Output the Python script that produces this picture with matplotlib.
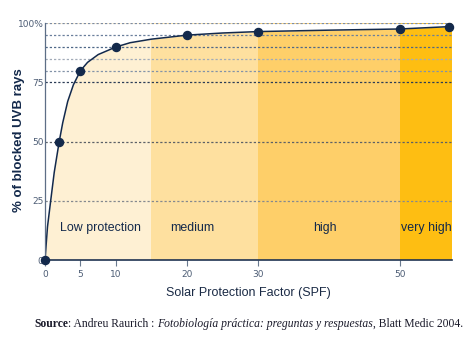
#SPF vs % of blocked UVB rays, with protection bands
import matplotlib.pyplot as plt
import matplotlib as mpl

# data
spf = [0, 2, 5, 10, 20, 30, 50, 57]
blocked = [0, 50, 80, 90, 95, 96.5, 97.6, 98.6]

# extra positions along the drawn curve
curve_x = [0, 0.1, 0.35, 0.8, 1.3, 2, 2.5, 3.2, 4, 5, 6, 7.5, 10, 12, 15,
           20, 25, 30, 40, 50, 57]
curve_y = [0, 4, 14, 25, 37, 50, 58, 67, 74, 80, 83.5, 86.8, 90, 91.8, 93.3,
           95, 95.9, 96.5, 97.1, 97.6, 98.6]

band_names = ['Low protection', 'medium', 'high', 'very high']
band_start = [0, 15, 30, 50]
band_end = [15, 30, 50, 57.4]
band_colors = ['#fef0d3', '#fee09f', '#fecf69', '#febe12']
band_label_x = [7.8, 20.8, 39.5, 53.8]

xticks = [0, 5, 10, 20, 30, 50]
yticks = [0, 25, 50, 75, 100]
ytick_labels = ['0', '25', '50', '75', '100%']
hlines = [25, 50, 75, 80, 85, 90, 95, 100]
hline_colors = ['#85898f', '#5d6167', '#2c3d57', '#8393a8', '#a2abb8',
                '#4f6888', '#6a7f9c', '#7d8ca3']

navy = '#13294b'

fig = plt.figure(figsize=[4.74, 3.4], dpi=100)
ax = fig.add_axes([45/474, 80/340, (452.3-45)/474, (260-23.3)/340])

for i in range(len(band_names)):
    ax.axvspan(band_start[i], band_end[i], color=band_colors[i], lw=0, zorder=0)
    ax.text(band_label_x[i], 13.5, band_names[i], ha='center', va='center',
            fontsize=8.9, color=navy, family='Liberation Sans', zorder=4)

# white above the curve
ax.fill_between(curve_x, curve_y, 100, color='white', lw=0, zorder=1)

for h, c in zip(hlines, hline_colors):
    ax.axhline(h, color=c, lw=0.9, dashes=(1.8, 1.6), zorder=2)

ax.plot(curve_x, curve_y, color=navy, lw=1.1, zorder=3)
ax.plot(spf, blocked, 'o', color=navy, ms=5.8, zorder=5, clip_on=False)

ax.set_xlim(0, 57.4)
ax.set_ylim(0, 100)
ax.spines[['top', 'right']].set_visible(False)
ax.spines['left'].set_color('#5d6e86')
ax.spines['left'].set_linewidth(0.9)
ax.spines['bottom'].set_color('#1f3352')
ax.spines['bottom'].set_linewidth(1.2)
ax.spines['left'].set_zorder(4)
ax.spines['bottom'].set_zorder(4)

ax.set_xticks(xticks)
ax.set_xticklabels([str(x) for x in xticks])
ax.set_yticks(yticks)
ax.set_yticklabels(ytick_labels)
ax.tick_params(axis='x', length=4, width=0.8, color='#6a7a90', direction='out',
               labelsize=6.5, labelcolor='#4d5d75', pad=3)
ax.tick_params(axis='y', length=0, labelsize=6.5, labelcolor='#4d5d75', pad=1)
for t in ax.xaxis.get_ticklines():
    t.set_linestyle((0, (1, 1)))

ax.set_xlabel('Solar Protection Factor (SPF)', fontsize=9, color='#1a2a45',
              family='Liberation Sans', labelpad=6)
fig.text(19/474, 1-140/340, '% of blocked UVB rays', rotation=90, fontsize=9.5,
         color=navy, fontweight='bold', family='Liberation Sans',
         ha='center', va='center')

# source line, pieced together
parts = [('Source', 'bold', 'normal'), (': Andreu Raurich : ', 'normal', 'normal'),
         ('Fotobiología práctica: preguntas y respuestas', 'normal', 'italic'),
         (', Blatt Medic 2004.', 'normal', 'normal')]
renderer = fig.canvas.get_renderer()
x = 34
for txt, w, st in parts:
    t = fig.text(x/474, 1-324/340, txt, fontsize=8.4, family='Liberation Serif',
                 fontweight=w, style=st, color='#1a1a2a', va='center', ha='left')
    x += t.get_window_extent(renderer).width

fig.savefig('out.png', dpi=100)
